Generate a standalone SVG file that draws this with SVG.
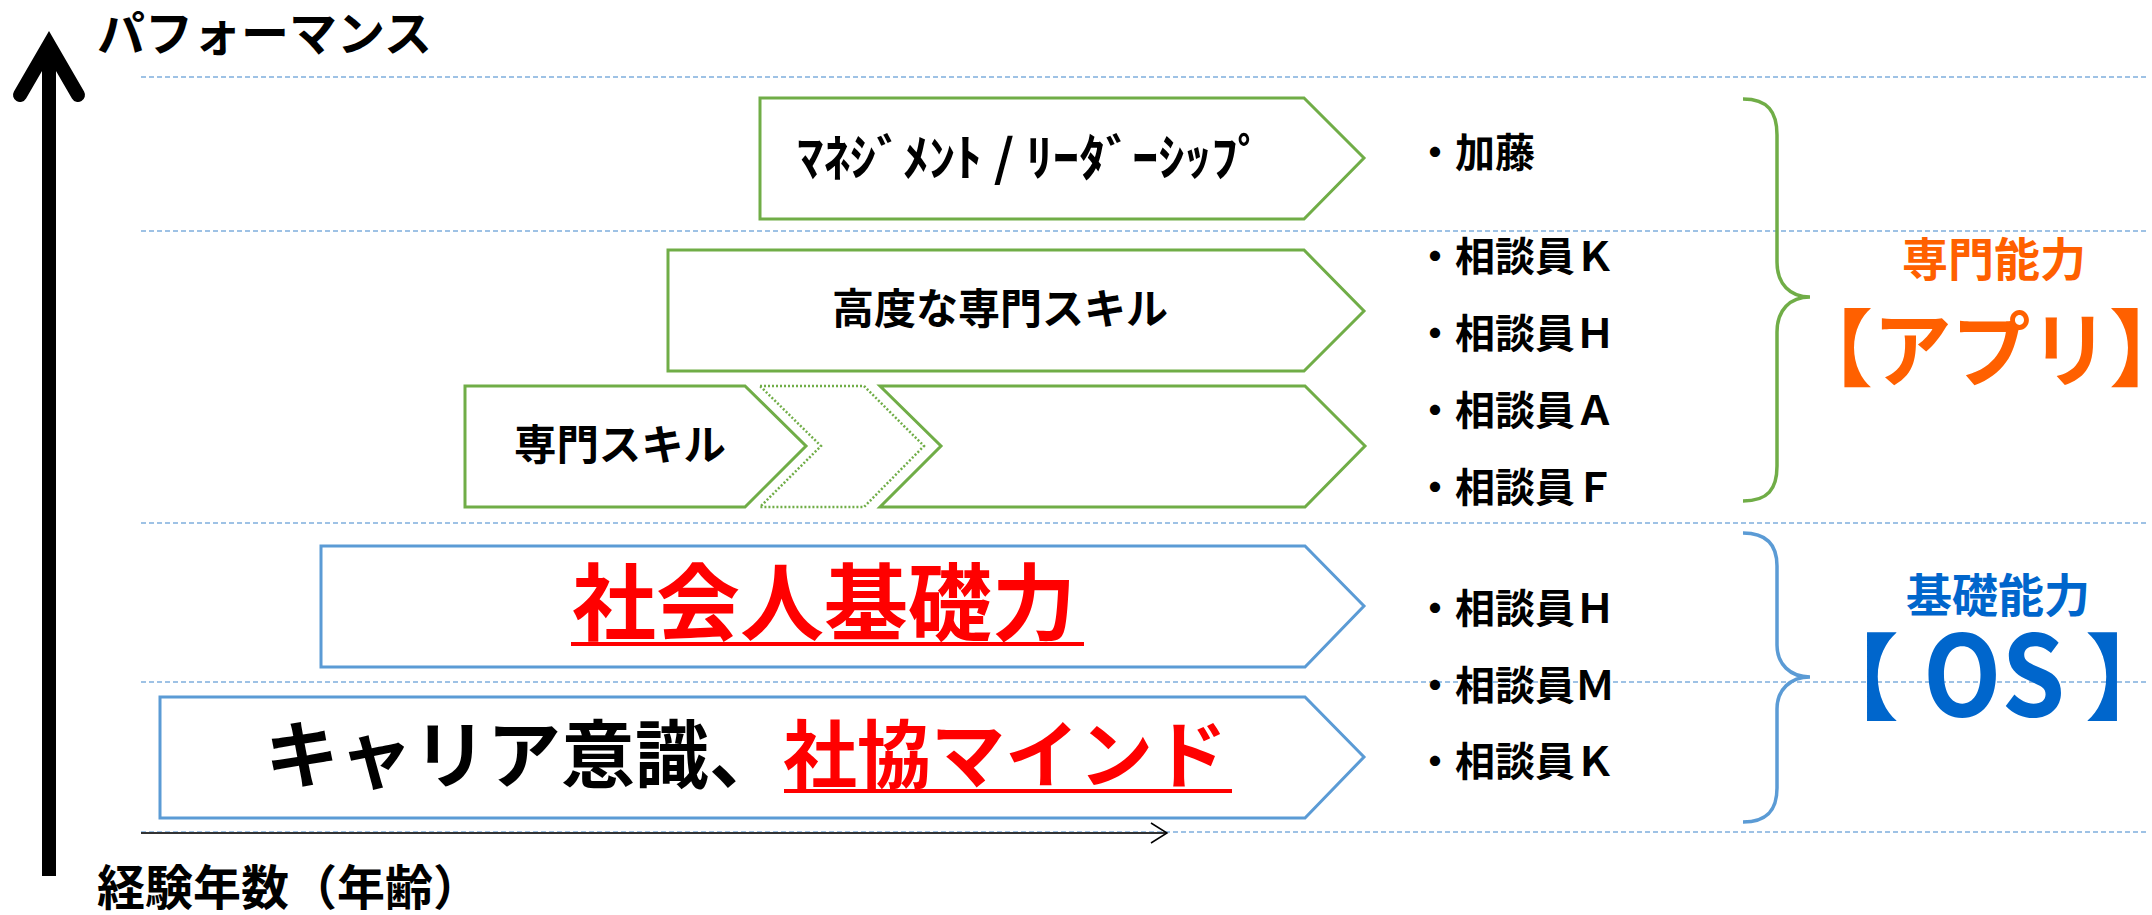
<svg xmlns="http://www.w3.org/2000/svg" width="2152" height="915" viewBox="0 0 2152 915">
<style>
  .t { font-family: "Noto Sans CJK JP", "Noto Sans", sans-serif; font-weight: 700; fill: #000; }
  .grid { stroke: #7FAEDD; stroke-width: 1.6; stroke-dasharray: 5 3; fill: none; }
  .gbox { fill: #fff; stroke: #70AD47; stroke-width: 3; }
  .gdot { fill: #fff; stroke: #70AD47; stroke-width: 2.5; stroke-dasharray: 2 2; }
  .bbox { fill: #fff; stroke: #5B9BD5; stroke-width: 3; }
  .red { fill: #FF0000; }
  .ul { stroke: #FF0000; stroke-width: 4; }
  .org { fill: #FF6000; }
  .blu { fill: #0066CC; }
</style>
<defs>
  <marker id="open" viewBox="0 0 20 24" refX="18" refY="12" markerWidth="20" markerHeight="24" markerUnits="userSpaceOnUse" orient="auto">
    <polyline points="2,2 18,12 2,22" fill="none" stroke="#000" stroke-width="1.5"/>
  </marker>
</defs>
<rect width="2152" height="915" fill="#fff"/>

<g id="gridlines">
  <line class="grid" x1="141" y1="77" x2="2146" y2="77"/>
  <line class="grid" x1="141" y1="231" x2="2146" y2="231"/>
  <line class="grid" x1="141" y1="523" x2="2146" y2="523"/>
  <line class="grid" x1="141" y1="682" x2="2146" y2="682"/>
  <line class="grid" x1="141" y1="832" x2="2146" y2="832"/>
</g>

<g id="axes">
  <line x1="49" y1="876" x2="49" y2="55" stroke="#000" stroke-width="14"/>
  <polyline points="20,95 49,45 78,95" fill="none" stroke="#000" stroke-width="14" stroke-linecap="round" stroke-linejoin="miter"/>
  <line x1="141" y1="833" x2="1167" y2="833" stroke="#333" stroke-width="1.8" marker-end="url(#open)"/>
  <text class="t" x="97" y="51" font-size="48">パフォーマンス</text>
  <text class="t" x="97" y="905" font-size="48">経験年数（年齢）</text>
</g>

<g id="node-management">
  <polygon class="gbox" points="760,98 1304,98 1364,158 1304,219 760,219"/>
  <text class="t" x="797" y="176" font-size="50" textLength="467" lengthAdjust="spacingAndGlyphs">ﾏﾈｼﾞﾒﾝﾄ / ﾘｰﾀﾞｰｼｯﾌﾟ</text>
</g>

<g id="node-advanced">
  <polygon class="gbox" points="668,250 1304,250 1364,311 1304,371 668,371"/>
  <text class="t" x="832" y="324" font-size="42" textLength="336" lengthAdjust="spacingAndGlyphs">高度な専門スキル</text>
</g>

<g id="node-skill">
  <polygon class="gbox" points="465,386 745,386 806,446 745,507 465,507"/>
  <text class="t" x="514" y="460" font-size="42" textLength="212" lengthAdjust="spacingAndGlyphs">専門スキル</text>
</g>
<g id="node-skill-gap">
  <polygon class="gdot" points="760,386 864,386 924,446 864,507 760,507 821,446"/>
</g>
<g id="node-skill-next">
  <polygon class="gbox" points="880,386 1305,386 1365,446 1305,507 880,507 941,446"/>
</g>

<g id="node-basic">
  <polygon class="bbox" points="321,546 1305,546 1364,606 1305,667 321,667"/>
  <text class="t red" x="572" y="634" font-size="84">社会人基礎力</text>
  <line class="ul" x1="571" y1="644" x2="1084" y2="644"/>
</g>

<g id="node-career">
  <polygon class="bbox" points="160,697 1305,697 1364,757 1305,818 160,818"/>
  <text class="t" x="265" y="782" font-size="74">キャリア意識、<tspan class="red">社協マインド</tspan></text>
  <line class="ul" x1="784" y1="791" x2="1232" y2="791"/>
</g>

<g id="names">
  <text class="t" x="1415" y="167" font-size="40">・加藤</text>
  <text class="t" x="1415" y="271" font-size="40">・相談員Ｋ</text>
  <text class="t" x="1415" y="348" font-size="40">・相談員Ｈ</text>
  <text class="t" x="1415" y="425" font-size="40">・相談員Ａ</text>
  <text class="t" x="1415" y="502" font-size="40">・相談員Ｆ</text>
  <text class="t" x="1415" y="623" font-size="40">・相談員Ｈ</text>
  <text class="t" x="1415" y="700" font-size="40">・相談員Ｍ</text>
  <text class="t" x="1415" y="776" font-size="40">・相談員Ｋ</text>
</g>

<g id="connectors">
  <path d="M1743,99 C1768,99 1777,112 1777,135 L1777,262 C1777,284 1790,297 1810,297 C1790,297 1777,310 1777,332 L1777,466 C1777,489 1768,501 1743,501" fill="none" stroke="#70AD47" stroke-width="3.5"/>
  <path d="M1743,533 C1768,533 1777,546 1777,566 L1777,645 C1777,664 1790,677 1810,677 C1790,677 1777,690 1777,709 L1777,788 C1777,809 1768,822 1743,822" fill="none" stroke="#5B9BD5" stroke-width="3.5"/>
</g>

<g id="label-app">
  <text class="t org" x="1994" y="276" font-size="46" text-anchor="middle">専門能力</text>
  <text class="t org" y="380" font-size="84"><tspan x="1789">【</tspan><tspan x="1873" font-size="82" textLength="236" lengthAdjust="spacingAndGlyphs">アプリ</tspan><tspan x="2109">】</tspan></text>
</g>

<g id="label-os">
  <text class="t blu" x="1998" y="612" font-size="46" text-anchor="middle">基礎能力</text>
  <text class="t blu" y="713" font-size="94"><tspan x="1805">【</tspan><tspan x="1923" y="716" font-size="112" textLength="142" lengthAdjust="spacingAndGlyphs">OS</tspan><tspan x="2085" y="713">】</tspan></text>
</g>
</svg>
